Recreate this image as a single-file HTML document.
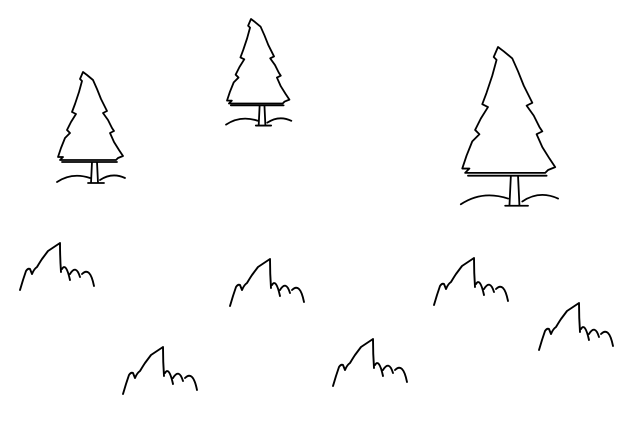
<!DOCTYPE html>
<html><head><meta charset="utf-8"><style>
html,body{margin:0;padding:0;background:#fff;}
svg{display:block;}
</style></head><body>
<svg width="640" height="424" viewBox="0 0 640 424">
<defs>
<g id="tree" fill="none" stroke="#000" stroke-width="1.8" stroke-linejoin="round" stroke-linecap="round">
<path vector-effect="non-scaling-stroke" d="M0,0 L4,3 L10,8 L14,17 L18,27 L24,39 L20,41 L25,48 L29,56 L31,59 L27,61 L31,70 L36,78 L40,84 L35,86 L33,88 L-23,88 L-20,85 L-25,85 L-22,76 L-18,66 L-13,61 L-16,58 L-12,50 L-7,42 L-11,40 L-8,32 L-4,20 L-1,9 L-3,7 Z"/>
<path vector-effect="non-scaling-stroke" d="M-21,90 L34,90 M9,90 L8,111 M14,90 L15,111 M-26,110 Q-11,100 7,106 M17,108 Q29,100 42,106 M5,111 L21,111"/>
</g>
<g id="grass" fill="none" stroke="#000" stroke-width="1.9" stroke-linejoin="round" stroke-linecap="round">
<path d="M20,290 L23,280 L26,271 Q28,268 30,269 L32,274 Q34,269 37,267 Q40,262 42,259 L48,251 L60,243 Q60,258 61,272 M62,269 Q66,262 70,280 M70,274 Q76,264 80,277 M82,274 Q90,266 94,286"/>
</g>
</defs>
<g><use href="#tree" transform="translate(83,72)"/></g>
<g><use href="#tree" transform="translate(251,19) scale(0.96)"/></g>
<g><use href="#tree" transform="translate(498,47) scale(1.43)"/></g>
<g><use href="#grass"/></g>
<g><use href="#grass" transform="translate(210,16)"/></g>
<g><use href="#grass" transform="translate(414,15)"/></g>
<g><use href="#grass" transform="translate(103,104)"/></g>
<g><use href="#grass" transform="translate(313,96)"/></g>
<g><use href="#grass" transform="translate(519,60)"/></g>
</svg>
</body></html>
